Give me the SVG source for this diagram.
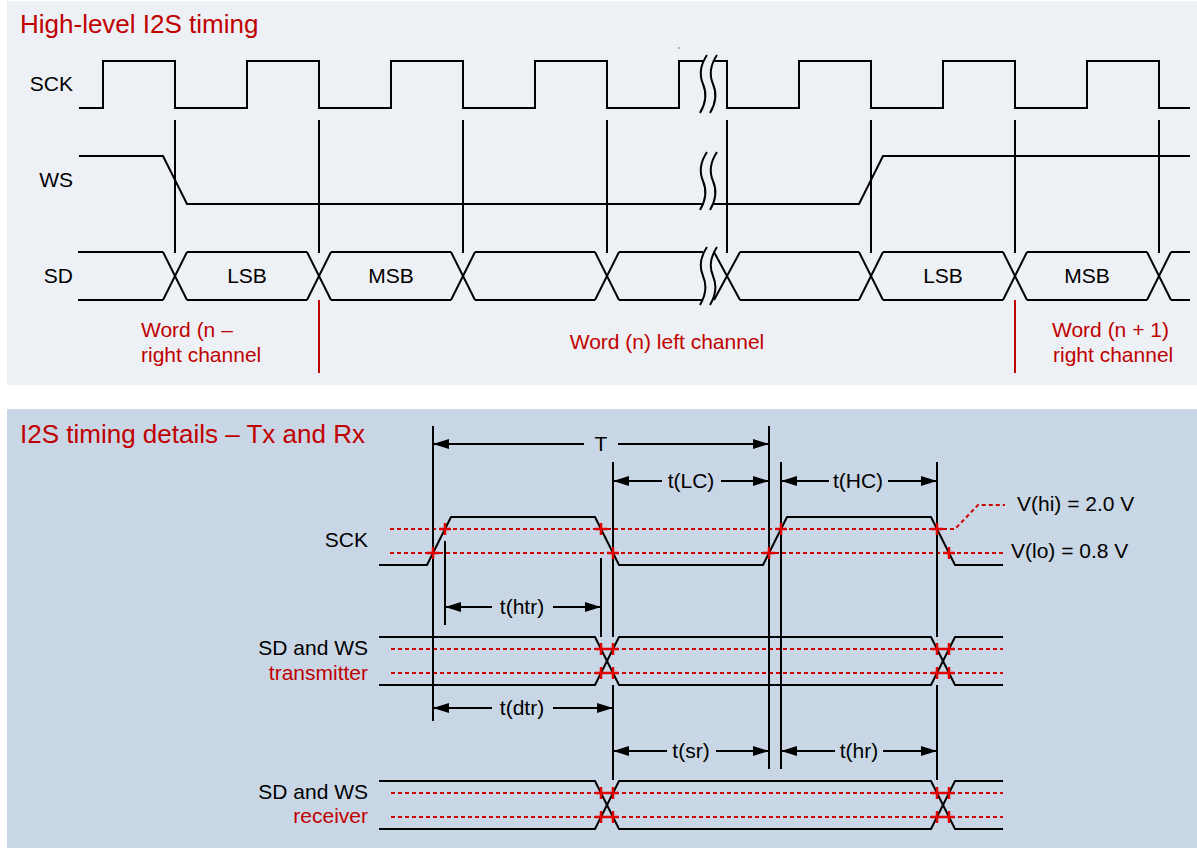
<svg xmlns="http://www.w3.org/2000/svg" width="1197" height="848" viewBox="0 0 1197 848">
<style>
.t{font-family:"Liberation Sans",Arial,sans-serif;font-size:21px;fill:#000}
.r{fill:#C00000}
.ttl{font-family:"Liberation Sans",Arial,sans-serif;font-size:26px;fill:#C00000}
.w{fill:none;stroke:#000;stroke-width:2;stroke-linejoin:miter}
.brk{fill:none;stroke:#000;stroke-width:2}
.rl{stroke:#C00000;stroke-width:2}
.dot{fill:none;stroke:#D00000;stroke-width:2;stroke-dasharray:4 3}
.x{stroke:#E00000;stroke-width:2.5;fill:none}
.dim{stroke:#000;stroke-width:2;fill:none}
.arr{stroke:#000;stroke-width:2;fill:none;marker-end:url(#ah)}
.arl{stroke:#000;stroke-width:2;fill:none;marker-start:url(#ah)}
</style>
<defs>
<marker id="ah" viewBox="0 0 16 10" refX="16" refY="5" markerWidth="16" markerHeight="10" markerUnits="userSpaceOnUse" orient="auto-start-reverse">
<path d="M0,0 L16,5 L0,10 z" fill="#000"/>
</marker>
<path id="bk" d="M0 0 Q-10 15 -4 29 T-7 58 M10 0 Q0 15 6 29 T3 58" class="brk"/>
<path id="cr" d="M-6 0 H6 M0 -6 V6" class="x"/>
</defs>

<rect id="panel-top" x="7" y="1" width="1190" height="384" fill="#EDF0F5"/>
<rect id="panel-bottom" x="7" y="409" width="1190" height="439" fill="#C9D6E5"/>

<g id="top-title"><text class="ttl" x="20" y="33">High-level I2S timing</text></g>

<g id="top-labels">
<text class="t" x="73" y="91" text-anchor="end">SCK</text>
<text class="t" x="73" y="187" text-anchor="end">WS</text>
<text class="t" x="73" y="283" text-anchor="end">SD</text>
</g>

<g id="sck-top">
<path class="w" d="M79 108 H103 V61 H175 V108 H247 V61 H319 V108 H391 V61 H463 V108 H535 V61 H607 V108 H679 V61 H704"/>
<path class="w" d="M714 61 H727 V108 H799 V61 H871 V108 H943 V61 H1015 V108 H1087 V61 H1159 V108 H1190"/>
<use href="#bk" x="707" y="55"/>
<circle cx="679" cy="48" r="0.8" fill="#555"/>
</g>

<g id="ws-top">
<path class="w" d="M79 156 H163 L187 204 H704"/>
<path class="w" d="M714 204 H859 L883 156 H1190"/>
<use href="#bk" x="707" y="152"/>
</g>

<g id="sd-top">
<path class="w" d="M78 252 H163 M187 252 H307 M331 252 H451 M475 252 H595 M619 252 H703 M740 252 H859 M883 252 H1003 M1027 252 H1147 M1171 252 H1190"/>
<path class="w" d="M78 300 H163 M187 300 H307 M331 300 H451 M475 300 H595 M619 300 H703 M740 300 H859 M883 300 H1003 M1027 300 H1147 M1171 300 H1190"/>
<path class="w" d="M163 252 L187 300 M163 300 L187 252 M307 252 L331 300 M307 300 L331 252 M451 252 L475 300 M451 300 L475 252 M595 252 L619 300 M595 300 L619 252 M714 252 L740 300 M714 300 L740 252 M859 252 L883 300 M859 300 L883 252 M1003 252 L1027 300 M1003 300 L1027 252 M1147 252 L1171 300 M1147 300 L1171 252"/>
<use href="#bk" x="707" y="247"/>
<text class="t" x="247" y="283" text-anchor="middle">LSB</text>
<text class="t" x="391" y="283" text-anchor="middle">MSB</text>
<text class="t" x="943" y="283" text-anchor="middle">LSB</text>
<text class="t" x="1087" y="283" text-anchor="middle">MSB</text>
</g>

<g id="top-ticks">
<path class="dim" d="M175 120 V253 M319 120 V253 M463 120 V253 M607 120 V253 M727 120 V253 M871 120 V253 M1015 120 V253 M1159 120 V253"/>
</g>

<g id="word-labels">
<line class="rl" x1="319" y1="300" x2="319" y2="373"/>
<line class="rl" x1="1015" y1="300" x2="1015" y2="373"/>
<text class="t r" x="141" y="337">Word (n –</text>
<text class="t r" x="141" y="362">right channel</text>
<text class="t r" x="667" y="349" text-anchor="middle">Word (n) left channel</text>
<text class="t r" x="1052" y="337">Word (n + 1)</text>
<text class="t r" x="1053" y="362">right channel</text>
</g>

<g id="bottom-title"><text class="ttl" x="20" y="443">I2S timing details – Tx and Rx</text></g>

<g id="bottom-labels">
<text class="t" x="368" y="547" text-anchor="end">SCK</text>
<text class="t" x="368" y="655" text-anchor="end">SD and WS</text>
<text class="t r" x="368" y="680" text-anchor="end">transmitter</text>
<text class="t" x="368" y="799" text-anchor="end">SD and WS</text>
<text class="t r" x="368" y="823" text-anchor="end">receiver</text>
<text class="t" x="1017" y="511">V(hi) = 2.0 V</text>
<text class="t" x="1011" y="558">V(lo) = 0.8 V</text>
</g>

<g id="thresholds">
<path class="dot" d="M390 529 H955 L978 505 H1005"/>
<path class="dot" d="M390 553 H1003"/>
<path class="dot" d="M391 649 H1003 M391 673 H1003"/>
<path class="dot" d="M391 793 H1003 M391 817 H1003"/>
</g>

<g id="sck-bottom">
<path class="w" d="M379 565 H427 L451 517 H595 L619 565 H763 L787 517 H931 L955 565 H1003"/>
</g>

<g id="sd-transmitter">
<path class="w" d="M379 637 H595 L619 685 H931 L955 637 H1003"/>
<path class="w" d="M379 685 H595 L619 637 H931 L955 685 H1003"/>
</g>

<g id="sd-receiver">
<path class="w" d="M379 781 H595 L619 829 H931 L955 781 H1003"/>
<path class="w" d="M379 829 H595 L619 781 H931 L955 829 H1003"/>
</g>

<g id="connectors">
<path class="dim" d="M433 426 V721 M445 541 V625 M601 558 V637 M613 462 V637 M613 685 V780 M769 426 V769 M781 462 V769 M937 462 V637 M937 685 V780"/>
<path class="arl" d="M433 444 H584"/><path class="arr" d="M618 444 H769"/>
<path class="arl" d="M613 481 H662"/><path class="arr" d="M721 481 H769"/>
<path class="arl" d="M781 481 H829"/><path class="arr" d="M888 481 H937"/>
<path class="arl" d="M445 607 H492"/><path class="arr" d="M553 607 H601"/>
<path class="arl" d="M433 708 H492"/><path class="arr" d="M553 708 H613"/>
<path class="arl" d="M613 751 H667"/><path class="arr" d="M716 751 H769"/>
<path class="arl" d="M781 751 H835"/><path class="arr" d="M883 751 H937"/>
<text class="t" x="601" y="451" text-anchor="middle">T</text>
<text class="t" x="691" y="488" text-anchor="middle">t(LC)</text>
<text class="t" x="858" y="488" text-anchor="middle">t(HC)</text>
<text class="t" x="522" y="614" text-anchor="middle">t(htr)</text>
<text class="t" x="522" y="715" text-anchor="middle">t(dtr)</text>
<text class="t" x="691" y="758" text-anchor="middle">t(sr)</text>
<text class="t" x="859" y="758" text-anchor="middle">t(hr)</text>
</g>

<g id="crossings">
<use href="#cr" x="433" y="553"/><use href="#cr" x="445" y="529"/>
<use href="#cr" x="601" y="529"/><use href="#cr" x="613" y="553"/>
<use href="#cr" x="769" y="553"/><use href="#cr" x="781" y="529"/>
<use href="#cr" x="937" y="529"/><use href="#cr" x="949" y="553"/>
<use href="#cr" x="601" y="649"/><use href="#cr" x="613" y="649"/>
<use href="#cr" x="601" y="673"/><use href="#cr" x="613" y="673"/>
<use href="#cr" x="937" y="649"/><use href="#cr" x="949" y="649"/>
<use href="#cr" x="937" y="673"/><use href="#cr" x="949" y="673"/>
<use href="#cr" x="601" y="793"/><use href="#cr" x="613" y="793"/>
<use href="#cr" x="601" y="817"/><use href="#cr" x="613" y="817"/>
<use href="#cr" x="937" y="793"/><use href="#cr" x="949" y="793"/>
<use href="#cr" x="937" y="817"/><use href="#cr" x="949" y="817"/>
</g>
</svg>
